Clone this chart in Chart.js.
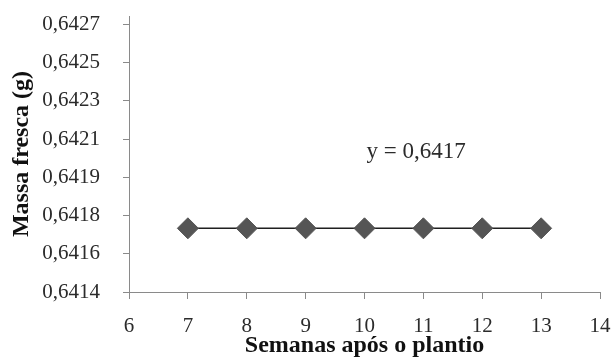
<!DOCTYPE html>
<html>
<head>
<meta charset="utf-8">
<script src="https://cdn.jsdelivr.net/npm/chart.js@4/dist/chart.umd.min.js"></script>
<style>
  html, body { margin: 0; padding: 0; background: #fff; }
  #wrap { width: 615px; height: 358px; }
</style>
</head>
<body>
<div id="wrap"><canvas id="c" width="615" height="358"></canvas></div>
<script>
// Weeks after planting and fresh mass (g)
const semanas = [7, 8, 9, 10, 11, 12, 13];
const massaFresca = [0.6417, 0.6417, 0.6417, 0.6417, 0.6417, 0.6417, 0.6417];
const equacao = 'y = 0,6417';

// Axis range
const xMin = 6, xMax = 14, xStep = 1;
const yMin = 0.6414, yMax = 0.6427, yStep = 0.00018, yTicks = 8;

const serif = '"Liberation Serif", "Times New Roman", serif';
const axisColor = '#8a8a8a';
const textColor = '#2b2b2b';

// Trend-line equation, placed in data coordinates
const equationLabel = {
  id: 'equationLabel',
  afterDatasetsDraw(chart) {
    const { ctx, scales } = chart;
    ctx.save();
    ctx.font = '23px ' + serif;
    ctx.fillStyle = textColor;
    ctx.textAlign = 'center';
    ctx.textBaseline = 'middle';
    ctx.fillText(equacao, scales.x.getPixelForValue(10.875), scales.y.getPixelForValue(0.64206));
    ctx.restore();
  }
};

new Chart(document.getElementById('c'), {
  type: 'line',
  data: {
    datasets: [{
      data: semanas.map((s, i) => ({ x: s, y: massaFresca[i] })),
      borderColor: '#1f1f1f',
      borderWidth: 1.5,
      pointStyle: 'rectRot',
      pointRadius: 10.5,
      pointHoverRadius: 10.5,
      pointBackgroundColor: '#555555',
      pointBorderColor: '#555555',
      pointBorderWidth: 1,
      tension: 0
    }]
  },
  options: {
    responsive: false,
    animation: false,
    events: [],
    layout: { padding: { top: 16, right: 15, left: 0, bottom: 0 } },
    plugins: { legend: { display: false }, tooltip: { enabled: false } },
    scales: {
      x: {
        type: 'linear',
        min: xMin, max: xMax,
        ticks: { stepSize: xStep, color: textColor, font: { family: serif, size: 21 }, padding: 15, maxRotation: 0 },
        grid: { drawOnChartArea: false, tickLength: 7, color: axisColor },
        border: { color: axisColor, width: 1 },
        title: { display: true, text: 'Semanas após o plantio', color: '#111', font: { family: serif, size: 24, weight: 'bold', lineHeight: 1 }, padding: { top: -7, bottom: 0 } },
        afterFit(scale) { scale.height = 66; scale.paddingLeft = 0; scale.paddingRight = 0; }
      },
      y: {
        type: 'linear',
        min: yMin, max: yMax,
        afterBuildTicks(scale) {
          scale.ticks = Array.from({ length: yTicks }, (_, i) => ({ value: yMin + i * yStep }));
        },
        ticks: {
          color: textColor, font: { family: serif, size: 21 }, padding: 23,
          callback: v => v.toFixed(4).replace('.', ',')
        },
        grid: { drawOnChartArea: false, tickLength: 6, color: axisColor },
        border: { color: axisColor, width: 1 },
        title: { display: true, text: 'Massa fresca (g)', color: '#111', font: { family: serif, size: 24, weight: 'bold', lineHeight: 1 }, padding: { top: 10, bottom: 0 } },
        afterFit(scale) { scale.width = 129; scale.paddingTop = 0; scale.paddingBottom = 0; }
      }
    }
  },
  plugins: [equationLabel]
});
</script>
</body>
</html>
